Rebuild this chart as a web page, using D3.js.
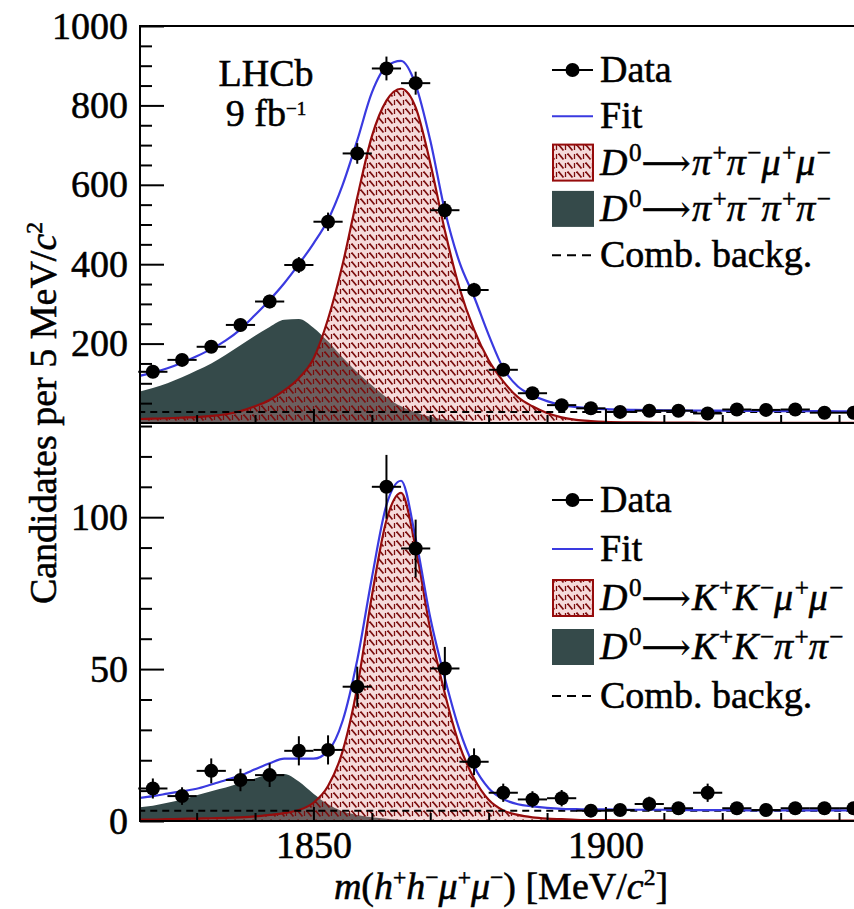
<!DOCTYPE html>
<html><head><meta charset="utf-8">
<script src="https://cdn.jsdelivr.net/npm/d3@7"></script>
<style>
html,body{margin:0;padding:0;background:#fff;}
svg{display:block;font-family:"Liberation Serif","DejaVu Serif",serif;}
text{stroke:#000;stroke-width:0.55px;fill:#000;}
</style>
</head><body>
<svg id="chart" width="854" height="909"></svg>
<script>
// ---------------- DATA ----------------
const binCenters = [1822.5,1827.5,1832.5,1837.5,1842.5,1847.5,1852.5,1857.5,1862.5,1867.5,1872.5,1877.5,1882.5,1887.5,1892.5,1897.5,1902.5,1907.5,1912.5,1917.5,1922.5,1927.5,1932.5,1937.5,1942.5];
const topCounts = [129,159,192,247,306,398,507,679,893,856,536,335,134,75,45,37,28,31,31,24,34,33,34,26,26];
const topErrors = [11,13,14,16,17,20,23,26,30,29,23,18,12,9,7,6,5,6,6,5,6,6,6,5,5];
const botCounts = [10.7,8.2,16.5,13.5,15.1,23.1,23.4,44.2,110,89.7,50.2,19.5,9.3,7.1,7.5,3.4,3.6,5.6,4.2,9.3,4.2,3.6,4.2,4.2,4.2];
const botErrors = [3.3,2.9,4.1,3.7,3.9,4.8,4.8,6.6,10.5,9.5,7.1,4.4,3.0,2.7,2.7,1.8,1.9,2.4,2.0,3.0,2.0,1.9,2.0,2.0,2.0];

const curveMass = [1820,1822.5,1825,1827.5,1830,1832.5,1835,1837.5,1840,1842.5,1845,1847.5,1850,1852.5,1855,1857.5,1860,1862.5,1865,1867.5,1870,1872.5,1875,1877.5,1880,1882.5,1885,1887.5,1890,1892.5,1895,1897.5,1900,1905,1910,1915,1920,1925,1930,1935,1940,1945,1950];
const topFit    = [118,127,138,152,168,186,208,236,272,310,352,400,452,512,600,712,832,898,912,852,712,535,405,318,222,138,92,70,55,45,40,37,35,33,32,31.5,31,30.5,30,30,29.5,29,29];
const topSignal = [10,11,12,13.5,15,18,22,30,42,58,82,113,162,262,400,568,722,812,842,795,655,485,340,235,158,105,65,42,25,14,8,5,3,1.5,1,0.7,0.5,0.4,0.3,0.3,0.2,0.2,0.2];
const topMisID  = [78,88,100,115,132,150,172,196,220,242,260,262,240,205,165,128,95,65,42,27,16,9,5,2.5,1.2,0.6,0.3,0,0,0,0,0,0,0,0,0,0,0,0,0,0,0,0];
const botFit    = [7.5,8.2,9,9.8,10.6,12,13.5,15,17,19,20.5,20.5,20.5,23,33,53,80,104,112,93,67,47,30,18,10.8,7.2,5.5,4.8,4.3,4.0,3.9,3.8,3.8,3.7,3.7,3.6,3.6,3.5,3.5,3.5,3.5,3.4,3.4];
const botSignal = [0.5,0.5,0.6,0.7,0.8,0.9,1,1.2,1.5,2,2.6,3.6,6,11.5,23,44,74,99,108,90,63,42,25,14,7,3.5,2,1.2,0.8,0.6,0.4,0.3,0.3,0.2,0.2,0.1,0.1,0.1,0.1,0.1,0.1,0.1,0.1];
const botMisID  = [4.5,5,6,7,8.5,9.8,11,12.5,14,15.3,15.5,13,9,5.5,3.2,2,1.2,0.7,0.4,0.2,0.1,0,0,0,0,0,0,0,0,0,0,0,0,0,0,0,0,0,0,0,0,0,0];
const combMass = [1820,1950];
const topComb = [28,28];
const botComb = [3.4,3.4];

const xMajorTicks = [1850,1900];
const xTickLabels = ["1850","1900"];
const xMinorTicks = [1830,1840,1860,1870,1880,1890,1910,1920,1930,1940];
const topYMajor = [200,400,600,800,1000];
const topYLabels = ["200","400","600","800","1000"];
const topYMinor = [50,100,150,250,300,350,450,500,550,650,700,750,850,900,950];
const botYMajor = [0,50,100];
const botYLabels = ["0","50","100"];
const botYMinor = [10,20,30,40,60,70,80,90,110,120,130];

const legendTop = ["Data","Fit","$D$^{0}⟶$π$^{+}$π$^{−}$μ$^{+}$μ$^{−}","$D$^{0}⟶$π$^{+}$π$^{−}$π$^{+}$π$^{−}","Comb. backg."];
const legendBot = ["Data","Fit","$D$^{0}⟶$K$^{+}$K$^{−}$μ$^{+}$μ$^{−}","$D$^{0}⟶$K$^{+}$K$^{−}$π$^{+}$π$^{−}","Comb. backg."];
const expLabel = ["LHCb","9 fb^{−1}"];
const yTitle = "Candidates per 5 MeV/$c$^{2}";
const xTitle = "$m$($h$^{+}$h$^{−}$μ$^{+}$μ$^{−}) [MeV/$c$^{2}]";

// ---------------- STYLE ----------------
const FS = 38;
const C_FIT = "#3a3ae0", C_SIG = "#960c0c", C_MIS = "#354a4a";

const svg = d3.select("#chart");
svg.append("rect").attr("width",854).attr("height",909).attr("fill","#fff");

const defs = svg.append("defs");
const pat = defs.append("pattern").attr("id","hatch").attr("patternUnits","userSpaceOnUse")
  .attr("width",9).attr("height",9);
pat.append("rect").attr("width",9).attr("height",9).attr("fill","rgba(225,140,140,0.32)");
pat.append("path").attr("d","M0.5,0.5 L5.5,6.5").attr("stroke","#7a0d0d").attr("stroke-width",1.7);
pat.append("path").attr("d","M7.5,1 L7.5,6").attr("stroke","#7a0d0d").attr("stroke-width",1.3);

// rich text helper: $..$ toggles italic, ^{..} superscript
function rich(textSel, str, size, opts){
  opts = opts || {};
  const parts = [];
  let ital = false, i = 0, buf = "";
  const flush = () => { if(buf){ parts.push({t:buf,i:ital,sup:false}); buf=""; } };
  while(i < str.length){
    const ch = str[i];
    if(ch === "$"){ flush(); ital = !ital; i++; continue; }
    if(ch === "^" && str[i+1] === "{"){
      flush();
      const j = str.indexOf("}", i);
      parts.push({t:str.slice(i+2,j), i:false, sup:true});
      i = j+1; continue;
    }
    if(ch === "⟶"){ flush(); parts.push({t:ch, i:false, sup:false, arrow:true}); i++; continue; }
    buf += ch; i++;
  }
  flush();
  let shift = 0;
  const raise = opts.raise || 0.36;
  parts.forEach(p => {
    const target = p.sup ? -raise*size : 0;
    const sp = textSel.append("tspan").text(p.t);
    if(target - shift !== 0) sp.attr("dy", target - shift);
    shift = target;
    if(p.sup) sp.attr("font-size", size*(opts.supScale||0.62));
    if(p.i) sp.attr("font-style","italic");
    if(p.arrow) sp.attr("font-family","'DejaVu Serif','Liberation Serif',serif").attr("font-size", size*0.9);
    if(opts.ls && !p.sup) sp.attr("letter-spacing", opts.ls);
  });
  return textSel;
}

// ---------------- SCALES ----------------
const x = d3.scaleLinear().domain([1820.3,1950]).range([140, 140 + (1950-1820.3)*5.84]);
const yTop = d3.scaleLinear().domain([0,1000]).range([423,26]);
const yBot = d3.scaleLinear().domain([0,131]).range([821,423]);

function panel(cfg){
  const {y, counts, errors, fit, sig, mis, comb, top, bottom, id} = cfg;
  const g = svg.append("g");
  defs.append("clipPath").attr("id","clip"+id).append("rect")
    .attr("x",140).attr("y",top).attr("width",760).attr("height",bottom-top);
  const pg = g.append("g").attr("clip-path","url(#clip"+id+")");
  const pts = arr => curveMass.map((m,k)=>({m:m, v:arr[k]}));
  const area = d3.area().x(d=>x(d.m)).y0(y(0)).y1(d=>y(d.v)).curve(d3.curveMonotoneX);
  const line = d3.line().x(d=>x(d.m)).y(d=>y(d.v)).curve(d3.curveMonotoneX);
  pg.append("path").attr("d",area(pts(mis))).attr("fill",C_MIS);
  pg.append("path").attr("d",area(pts(sig))).attr("fill","url(#hatch)");
  pg.append("path").attr("d",line(pts(sig))).attr("fill","none").attr("stroke",C_SIG).attr("stroke-width",2.2);
  pg.append("path").attr("d",d3.line().x(d=>x(d.m)).y(d=>y(d.v))(combMass.map((m,k)=>({m:m,v:comb[k]}))))
    .attr("fill","none").attr("stroke","#000").attr("stroke-width",2).attr("stroke-dasharray","7,5");
  pg.append("path").attr("d",line(pts(fit))).attr("fill","none").attr("stroke",C_FIT).attr("stroke-width",2.2);
  // data
  const dg = g.append("g");
  binCenters.forEach((m,k)=>{
    const cx = x(m), cy = y(counts[k]);
    dg.append("line").attr("x1",x(m-2.5)).attr("x2",Math.min(x(m+2.5),854)).attr("y1",cy).attr("y2",cy)
      .attr("stroke","#000").attr("stroke-width",2);
    dg.append("line").attr("x1",cx).attr("x2",cx).attr("y1",y(counts[k]-errors[k])).attr("y2",y(counts[k]+errors[k]))
      .attr("stroke","#000").attr("stroke-width",2);
    dg.append("circle").attr("cx",cx).attr("cy",cy).attr("r",7).attr("fill","#000");
  });
  // axes
  const yMaj = d3.axisLeft(y).tickValues(cfg.yMajor).tickSize(-24).tickPadding(12)
    .tickFormat((d,k)=>cfg.yLabels[k]);
  const ya = g.append("g").attr("transform","translate(140,0)").call(yMaj);
  const yMin = d3.axisLeft(y).tickValues(cfg.yMinor).tickSize(-12).tickFormat("");
  const yb = g.append("g").attr("transform","translate(140,0)").call(yMin);
  const xMin = d3.axisBottom(x).tickValues(xMinorTicks).tickSize(-8).tickFormat("");
  const xa = g.append("g").attr("transform","translate(0,"+bottom+")").call(xMin);
  const xMaj = d3.axisBottom(x).tickValues(xMajorTicks).tickSize(-14).tickPadding(10)
    .tickFormat((d,k)=> cfg.showX ? xTickLabels[k] : "");
  const xb = g.append("g").attr("transform","translate(0,"+bottom+")").call(xMaj);
  [ya,yb,xa,xb].forEach(a=>{
    a.select(".domain").remove();
    a.attr("font-family",null);
    a.selectAll("line").attr("stroke","#000").attr("stroke-width",2);
    a.selectAll("text").attr("font-size",FS).attr("fill","#000");
  });
  // legend
  const L = cfg.legend, ly = cfg.legY, step = cfg.legStep;
  const lg = g.append("g");
  L.forEach((lab,k)=>{
    const cy = ly + k*step;
    if(k===0){
      lg.append("line").attr("x1",552).attr("x2",593).attr("y1",cy).attr("y2",cy).attr("stroke","#000").attr("stroke-width",2);
      lg.append("circle").attr("cx",572.5).attr("cy",cy).attr("r",7).attr("fill","#000");
    } else if(k===1){
      lg.append("line").attr("x1",552).attr("x2",593).attr("y1",cy).attr("y2",cy).attr("stroke",C_FIT).attr("stroke-width",2);
    } else if(k===2){
      lg.append("rect").attr("x",553).attr("y",cy-18).attr("width",40).attr("height",36)
        .attr("fill","url(#hatch)").attr("stroke",C_SIG).attr("stroke-width",2);
    } else if(k===3){
      lg.append("rect").attr("x",552).attr("y",cy-18).attr("width",42).attr("height",36).attr("fill",C_MIS);
    } else {
      lg.append("line").attr("x1",552).attr("x2",594).attr("y1",cy).attr("y2",cy).attr("stroke","#000")
        .attr("stroke-width",2).attr("stroke-dasharray","9,6");
    }
    rich(lg.append("text").attr("x",600).attr("y",cy+12).attr("font-size",FS), lab, FS,
      k>=2 && k<=3 ? {supScale:0.66, ls:"1.5px"} : {});
  });
}

panel({id:"t", y:yTop, counts:topCounts, errors:topErrors, fit:topFit, sig:topSignal, mis:topMisID, comb:topComb,
  top:26, bottom:423, yMajor:topYMajor, yLabels:topYLabels, yMinor:topYMinor, showX:false,
  legend:legendTop, legY:70, legStep:46.3});
panel({id:"b", y:yBot, counts:botCounts, errors:botErrors, fit:botFit, sig:botSignal, mis:botMisID, comb:botComb,
  top:423, bottom:821, yMajor:botYMajor, yLabels:botYLabels, yMinor:botYMinor, showX:true,
  legend:legendBot, legY:500, legStep:49});

// frame
const fr = svg.append("g").attr("stroke","#000").attr("stroke-width",2);
fr.append("line").attr("x1",140).attr("x2",854).attr("y1",26).attr("y2",26);
fr.append("line").attr("x1",140).attr("x2",854).attr("y1",423).attr("y2",423);
fr.append("line").attr("x1",140).attr("x2",854).attr("y1",821).attr("y2",821);
fr.append("line").attr("x1",140).attr("x2",140).attr("y1",25).attr("y2",822);

// experiment label
rich(svg.append("text").attr("x",266).attr("y",86).attr("text-anchor","middle").attr("font-size",FS), expLabel[0], FS);
rich(svg.append("text").attr("x",266).attr("y",126).attr("text-anchor","middle").attr("font-size",FS), expLabel[1], FS, {supScale:0.5, raise:0.3});

// axis titles
rich(svg.append("text").attr("transform","translate(56,413) rotate(-90)").attr("text-anchor","middle").attr("font-size",FS), yTitle, FS);
rich(svg.append("text").attr("x",501).attr("y",899).attr("text-anchor","middle").attr("font-size",FS), xTitle, FS);
</script>
</body></html>
